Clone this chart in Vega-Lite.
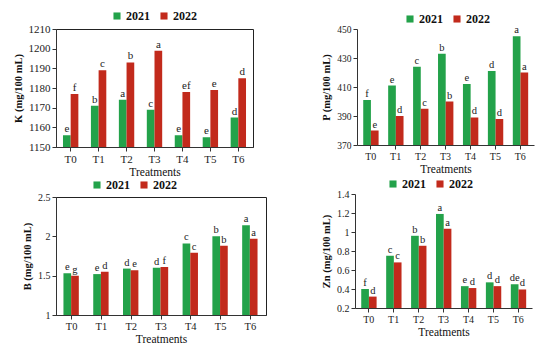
{
  "$schema": "https://vega.github.io/schema/vega-lite/v6.json",
  "padding": {"left": 12, "top": 9, "right": 5, "bottom": 2},
  "background": "white",
  "config": {
    "font": "Liberation Serif, Times New Roman, serif",
    "view": {"stroke": null},
    "axis": {"grid": false, "labelFont": "Liberation Serif, Times New Roman, serif", "titleFont": "Liberation Serif, Times New Roman, serif", "labelColor": "#222", "titleColor": "#111", "domainColor": "#333", "tickColor": "#333", "tickSize": 4, "labelPadding": 2},
    "legend": {"labelFont": "Liberation Serif, Times New Roman, serif", "labelFontWeight": "bold", "labelFontSize": 12, "labelColor": "#111", "symbolType": "square", "symbolSize": 50, "symbolStrokeWidth": 0, "columnPadding": 8, "labelOffset": 3, "title": null},
    "text": {"font": "Liberation Serif, Times New Roman, serif"}
  },
  "datasets": {
    "all": [
      {"panel": "K", "t": "T0", "year": "2021", "v": 1156, "l": "e"},
      {"panel": "K", "t": "T1", "year": "2021", "v": 1171, "l": "b"},
      {"panel": "K", "t": "T2", "year": "2021", "v": 1174, "l": "a"},
      {"panel": "K", "t": "T3", "year": "2021", "v": 1169, "l": "c"},
      {"panel": "K", "t": "T4", "year": "2021", "v": 1156, "l": "e"},
      {"panel": "K", "t": "T5", "year": "2021", "v": 1155, "l": "e"},
      {"panel": "K", "t": "T6", "year": "2021", "v": 1165, "l": "d"},
      {"panel": "K", "t": "T0", "year": "2022", "v": 1177, "l": "f"},
      {"panel": "K", "t": "T1", "year": "2022", "v": 1189, "l": "c"},
      {"panel": "K", "t": "T2", "year": "2022", "v": 1193, "l": "b"},
      {"panel": "K", "t": "T3", "year": "2022", "v": 1199, "l": "a"},
      {"panel": "K", "t": "T4", "year": "2022", "v": 1178, "l": "ef"},
      {"panel": "K", "t": "T5", "year": "2022", "v": 1179, "l": "e"},
      {"panel": "K", "t": "T6", "year": "2022", "v": 1185, "l": "d"},
      {"panel": "P", "t": "T0", "year": "2021", "v": 401, "l": "f"},
      {"panel": "P", "t": "T1", "year": "2021", "v": 411, "l": "e"},
      {"panel": "P", "t": "T2", "year": "2021", "v": 424, "l": "c"},
      {"panel": "P", "t": "T3", "year": "2021", "v": 433, "l": "b"},
      {"panel": "P", "t": "T4", "year": "2021", "v": 412, "l": "e"},
      {"panel": "P", "t": "T5", "year": "2021", "v": 421, "l": "d"},
      {"panel": "P", "t": "T6", "year": "2021", "v": 445, "l": "a"},
      {"panel": "P", "t": "T0", "year": "2022", "v": 380, "l": "e"},
      {"panel": "P", "t": "T1", "year": "2022", "v": 390, "l": "d"},
      {"panel": "P", "t": "T2", "year": "2022", "v": 395, "l": "c"},
      {"panel": "P", "t": "T3", "year": "2022", "v": 400, "l": "b"},
      {"panel": "P", "t": "T4", "year": "2022", "v": 389, "l": "d"},
      {"panel": "P", "t": "T5", "year": "2022", "v": 388, "l": "d"},
      {"panel": "P", "t": "T6", "year": "2022", "v": 420, "l": "a"},
      {"panel": "B", "t": "T0", "year": "2021", "v": 1.53, "l": "e"},
      {"panel": "B", "t": "T1", "year": "2021", "v": 1.52, "l": "e"},
      {"panel": "B", "t": "T2", "year": "2021", "v": 1.59, "l": "d"},
      {"panel": "B", "t": "T3", "year": "2021", "v": 1.6, "l": "d"},
      {"panel": "B", "t": "T4", "year": "2021", "v": 1.91, "l": "c"},
      {"panel": "B", "t": "T5", "year": "2021", "v": 2.0, "l": "b"},
      {"panel": "B", "t": "T6", "year": "2021", "v": 2.14, "l": "a"},
      {"panel": "B", "t": "T0", "year": "2022", "v": 1.5, "l": "g"},
      {"panel": "B", "t": "T1", "year": "2022", "v": 1.55, "l": "d"},
      {"panel": "B", "t": "T2", "year": "2022", "v": 1.57, "l": "e"},
      {"panel": "B", "t": "T3", "year": "2022", "v": 1.61, "l": "f"},
      {"panel": "B", "t": "T4", "year": "2022", "v": 1.79, "l": "c"},
      {"panel": "B", "t": "T5", "year": "2022", "v": 1.88, "l": "b"},
      {"panel": "B", "t": "T6", "year": "2022", "v": 1.97, "l": "a"},
      {"panel": "Zn", "t": "T0", "year": "2021", "v": 0.4, "l": "f"},
      {"panel": "Zn", "t": "T1", "year": "2021", "v": 0.75, "l": "c"},
      {"panel": "Zn", "t": "T2", "year": "2021", "v": 0.96, "l": "b"},
      {"panel": "Zn", "t": "T3", "year": "2021", "v": 1.19, "l": "a"},
      {"panel": "Zn", "t": "T4", "year": "2021", "v": 0.43, "l": "e"},
      {"panel": "Zn", "t": "T5", "year": "2021", "v": 0.47, "l": "d"},
      {"panel": "Zn", "t": "T6", "year": "2021", "v": 0.45, "l": "de"},
      {"panel": "Zn", "t": "T0", "year": "2022", "v": 0.32, "l": "d"},
      {"panel": "Zn", "t": "T1", "year": "2022", "v": 0.68, "l": "c"},
      {"panel": "Zn", "t": "T2", "year": "2022", "v": 0.855, "l": "b"},
      {"panel": "Zn", "t": "T3", "year": "2022", "v": 1.035, "l": "a"},
      {"panel": "Zn", "t": "T4", "year": "2022", "v": 0.41, "l": "d"},
      {"panel": "Zn", "t": "T5", "year": "2022", "v": 0.43, "l": "d"},
      {"panel": "Zn", "t": "T6", "year": "2022", "v": 0.395, "l": "d"}
    ]
  },
  "concat": [
    {
      "width": 197, "height": 118,
      "data": {"name": "all"},
      "transform": [{"filter": "datum.panel === 'K'"}],
      "view": {"stroke": "#222"},
      "encoding": {
        "x": {"field": "t", "type": "nominal", "title": "Treatments", "scale": {"paddingInner": 0.45, "paddingOuter": 0.25},
          "axis": {"labelAngle": 0, "labelFontSize": 11, "titleFontSize": 11.5, "titleFontWeight": "normal", "titlePadding": 2}},
        "xOffset": {"field": "year", "type": "nominal"},
        "y": {"field": "v", "type": "quantitative", "title": "K (mg/100 mL)", "scale": {"domain": [1150, 1210], "zero": false},
          "axis": {"values": [1150, 1160, 1170, 1180, 1190, 1200, 1210], "format": "d", "labelFontSize": 11, "titleFontSize": 10.5, "titleFontWeight": "bold", "titlePadding": 5}}
      },
      "layer": [
        {"mark": {"type": "bar", "clip": true},
          "encoding": {"color": {"field": "year", "type": "nominal", "scale": {"domain": ["2021", "2022"], "range": ["#23a24a", "#c22a1c"]},
            "legend": {"orient": "none", "direction": "horizontal", "legendX": 55, "legendY": -19}}}},
        {"mark": {"type": "text", "dy": -6, "fontSize": 11, "color": "#222"},
          "encoding": {"text": {"field": "l"}}}
      ]
    },
    {
      "width": 177, "height": 116,
      "data": {"name": "all"},
      "transform": [{"filter": "datum.panel === 'P'"}],
      "encoding": {
        "x": {"field": "t", "type": "nominal", "title": "Treatments", "scale": {"paddingInner": 0.4, "paddingOuter": 0.25},
          "axis": {"labelAngle": 0, "labelFontSize": 10, "titleFontSize": 11.5, "titleFontWeight": "normal", "titlePadding": 2}},
        "xOffset": {"field": "year", "type": "nominal"},
        "y": {"field": "v", "type": "quantitative", "title": "P (mg/100 mL)", "scale": {"domain": [370, 450], "zero": false},
          "axis": {"values": [370, 390, 410, 430, 450], "format": "d", "labelFontSize": 9.5, "titleFontSize": 10.5, "titleFontWeight": "bold", "titlePadding": 5}}
      },
      "layer": [
        {"mark": {"type": "bar", "clip": true},
          "encoding": {"color": {"field": "year", "type": "nominal", "scale": {"domain": ["2021", "2022"], "range": ["#23a24a", "#c22a1c"]},
            "legend": {"orient": "none", "direction": "horizontal", "legendX": 47, "legendY": -16}}}},
        {"mark": {"type": "text", "dy": -6, "fontSize": 10.5, "color": "#222"},
          "encoding": {"text": {"field": "l"}}}
      ]
    },
    {
      "width": 210, "height": 118,
      "data": {"name": "all"},
      "transform": [{"filter": "datum.panel === 'B'"}],
      "view": {"stroke": "#222"},
      "encoding": {
        "x": {"field": "t", "type": "nominal", "title": "Treatments", "scale": {"paddingInner": 0.45, "paddingOuter": 0.25},
          "axis": {"labelAngle": 0, "labelFontSize": 10.5, "titleFontSize": 11.5, "titleFontWeight": "normal", "titlePadding": 2}},
        "xOffset": {"field": "year", "type": "nominal"},
        "y": {"field": "v", "type": "quantitative", "title": "B (mg/100 mL)", "scale": {"domain": [1, 2.5], "zero": false},
          "axis": {"values": [1, 1.5, 2, 2.5], "format": ".1~f", "labelFontSize": 10, "titleFontSize": 10.5, "titleFontWeight": "bold", "titlePadding": 5}}
      },
      "layer": [
        {"mark": {"type": "bar", "clip": true},
          "encoding": {"color": {"field": "year", "type": "nominal", "scale": {"domain": ["2021", "2022"], "range": ["#23a24a", "#c22a1c"]},
            "legend": {"orient": "none", "direction": "horizontal", "legendX": 35, "legendY": -18}}}},
        {"mark": {"type": "text", "dy": -6, "fontSize": 10.5, "color": "#222"},
          "encoding": {"text": {"field": "l"}}}
      ]
    },
    {
      "width": 177, "height": 114,
      "data": {"name": "all"},
      "transform": [{"filter": "datum.panel === 'Zn'"}],
      "encoding": {
        "x": {"field": "t", "type": "nominal", "title": "Treatments", "scale": {"paddingInner": 0.4, "paddingOuter": 0.25},
          "axis": {"labelAngle": 0, "labelFontSize": 10, "titleFontSize": 11.5, "titleFontWeight": "normal", "titlePadding": 2}},
        "xOffset": {"field": "year", "type": "nominal"},
        "y": {"field": "v", "type": "quantitative", "title": "Zn (mg/100 mL)", "scale": {"domain": [0.2, 1.4], "zero": false},
          "axis": {"values": [0.2, 0.4, 0.6, 0.8, 1, 1.2, 1.4], "format": ".1~f", "labelFontSize": 10, "titleFontSize": 10.5, "titleFontWeight": "bold", "titlePadding": 5}}
      },
      "layer": [
        {"mark": {"type": "bar", "clip": true},
          "encoding": {"color": {"field": "year", "type": "nominal", "scale": {"domain": ["2021", "2022"], "range": ["#23a24a", "#c22a1c"]},
            "legend": {"orient": "none", "direction": "horizontal", "legendX": 32, "legendY": -16}}}},
        {"mark": {"type": "text", "dy": -6, "fontSize": 10.5, "color": "#222"},
          "encoding": {"text": {"field": "l"}}}
      ]
    }
  ],
  "columns": 2,
  "align": "none",
  "spacing": {"row": 0, "column": 54},
  "resolve": {"legend": {"color": "independent"}}
}
